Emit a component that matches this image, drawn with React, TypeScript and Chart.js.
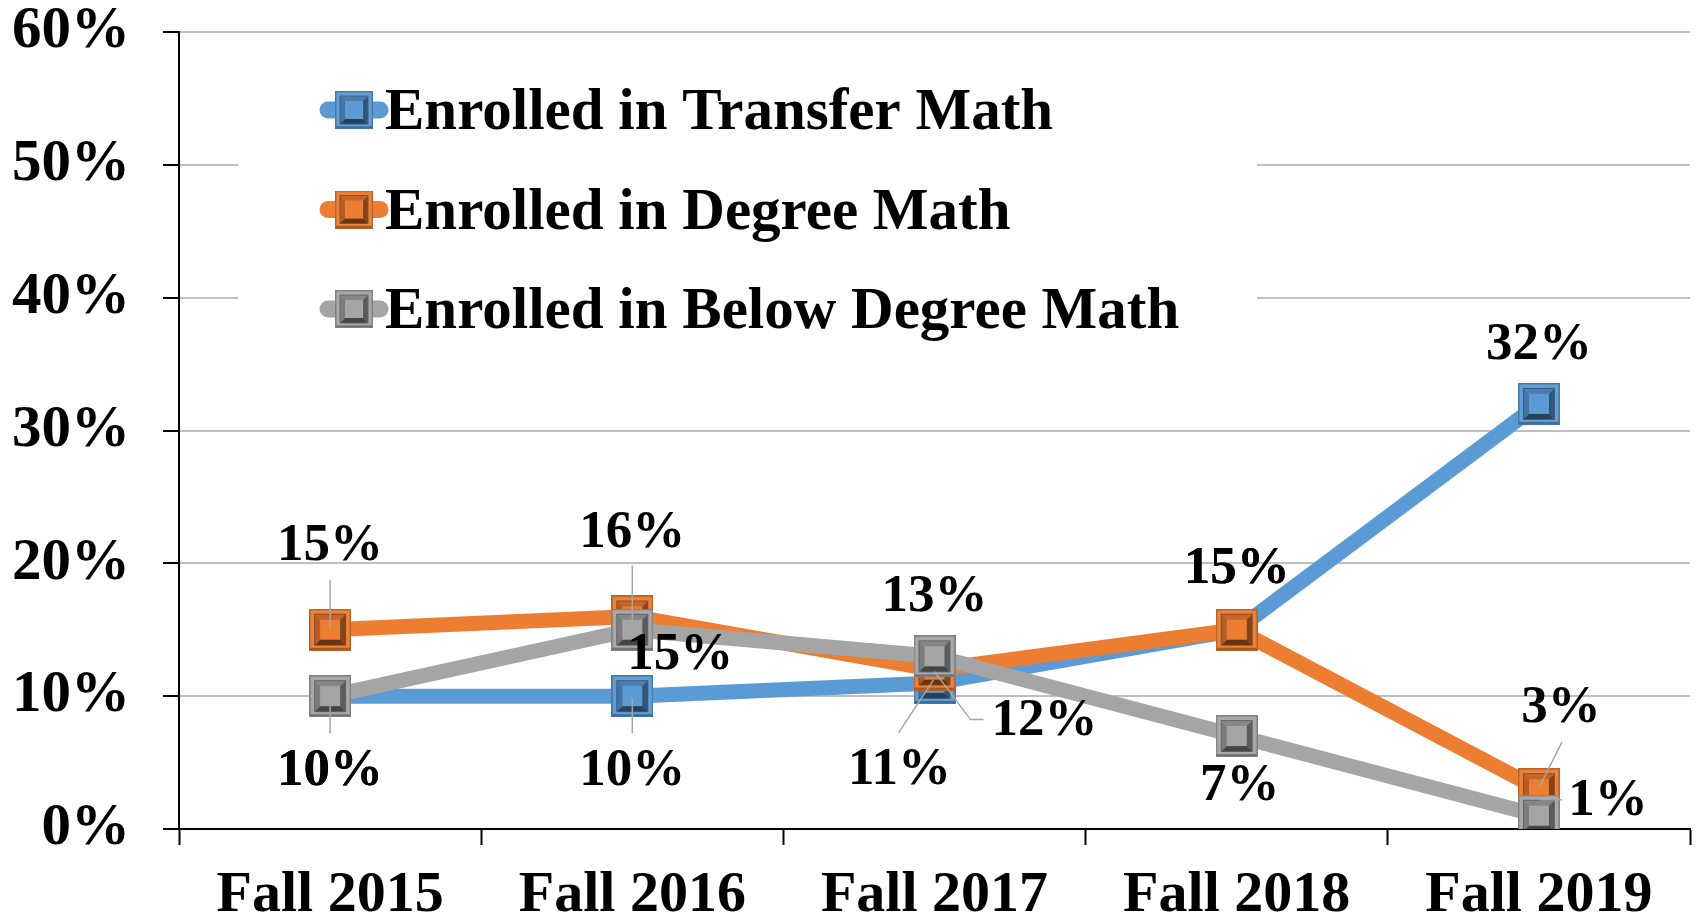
import React, { useEffect, useRef } from 'react';
import { Chart, registerables } from 'chart.js';
Chart.register(...registerables);

const categories = ['Fall 2015', 'Fall 2016', 'Fall 2017', 'Fall 2018', 'Fall 2019'];
const transferMath = [10, 10, 11, 15, 32];
const degreeMath = [15, 16, 12, 15, 3];
const belowDegreeMath = [10, 15, 13, 7, 1];
const seriesNames = ['Enrolled in Transfer Math', 'Enrolled in Degree Math', 'Enrolled in Below Degree Math'];
const yMin = 0;
const yMax = 60;
const yStep = 10;

const COLORS = ['#5B9BD5', '#ED7D31', '#A5A5A5'];
const FONT = '"Liberation Serif", "Times New Roman", serif';

type Lbl = { dx: number; dy: number; lead?: number[][] };
// label placement relative to its point (pixels)
const labelLayout: Lbl[][] = [
  [
    { dx: 0, dy: 75, lead: [[0, 2], [0, 37]] },
    { dx: 0, dy: 75, lead: [[0, 2], [0, 37]] },
    { dx: -35, dy: 87, lead: [[-1, -3], [-36, 50]] },
    { dx: 0, dy: -60 },
    { dx: 0, dy: -59 },
  ],
  [
    { dx: 0, dy: -83, lead: [[0, -50], [0, 0]] },
    { dx: 0, dy: -83, lead: [[0, -51], [0, 3]] },
    { dx: 110, dy: 52, lead: [[0, 2], [36, 50], [49, 50]] },
    { dx: 0, dy: -60 },
    { dx: 22, dy: -81, lead: [[23, -47], [0, -1]] },
  ],
  [
    { dx: 0, dy: 75 },
    { dx: 48, dy: 26 },
    { dx: 0, dy: -59 },
    { dx: 3, dy: 50 },
    { dx: 69, dy: -14, lead: [[0, -16], [23, -16]] },
  ],
];

function shade(hex: string, f: number): string {
  const n = parseInt(hex.slice(1), 16);
  let r = (n >> 16) & 255, g = (n >> 8) & 255, b = n & 255;
  if (f >= 1) {
    const t = f - 1;
    r = r + (255 - r) * t; g = g + (255 - g) * t; b = b + (255 - b) * t;
  } else {
    r *= f; g *= f; b *= f;
  }
  return `rgb(${Math.round(r)},${Math.round(g)},${Math.round(b)})`;
}

function makeMarker(base: string): HTMLCanvasElement {
  const s = 42;
  const c = document.createElement('canvas');
  c.width = s; c.height = s;
  const ctx = c.getContext('2d')!;
  const poly = (col: string, pts: number[][]) => {
    ctx.fillStyle = col;
    ctx.beginPath();
    ctx.moveTo(pts[0][0], pts[0][1]);
    for (let i = 1; i < pts.length; i++) ctx.lineTo(pts[i][0], pts[i][1]);
    ctx.closePath();
    ctx.fill();
  };
  ctx.fillStyle = shade(base, 1.04);
  ctx.fillRect(0, 0, s, s);
  const i0 = 5, b = 6;
  const a = i0, z = s - i0;
  poly(shade(base, 0.82), [[a, a], [z, a], [z - b, a + b], [a + b, a + b]]);
  poly(shade(base, 0.75), [[a, a], [a + b, a + b], [a + b, z - b], [a, z]]);
  poly(shade(base, 0.55), [[z, a], [z, z], [z - b, z - b], [z - b, a + b]]);
  poly(shade(base, 0.42), [[a, z], [a + b, z - b], [z - b, z - b], [z, z]]);
  ctx.fillStyle = base;
  ctx.fillRect(a + b, a + b, z - a - 2 * b, z - a - 2 * b);
  ctx.strokeStyle = shade(base, 0.6);
  ctx.lineWidth = 1;
  ctx.strokeRect(a + 0.5, a + 0.5, z - a - 1, z - a - 1);
  ctx.strokeStyle = shade(base, 0.78);
  ctx.lineWidth = 1.5;
  ctx.strokeRect(0.75, 0.75, s - 1.5, s - 1.5);
  ctx.fillStyle = shade(base, 0.7);
  ctx.fillRect(1, s - 3, s - 2, 2);
  return c;
}

export default function App() {
  const ref = useRef<HTMLCanvasElement | null>(null);

  useEffect(() => {
    if (!ref.current) return;
    const markers = COLORS.map(makeMarker);
    const seriesData = [transferMath, degreeMath, belowDegreeMath];

    const legendPlugin = {
      id: 'customLegend',
      beforeDatasetsDraw(chart: any) {
        const ctx = chart.ctx;
        ctx.save();
        ctx.fillStyle = '#FFFFFF';
        ctx.fillRect(238, 55, 1019, 290);
        seriesNames.forEach((name, i) => {
          const cy = 110 + i * 99.5;
          ctx.strokeStyle = COLORS[i];
          ctx.lineWidth = 17;
          ctx.lineCap = 'round';
          ctx.beginPath();
          ctx.moveTo(328, cy);
          ctx.lineTo(380, cy);
          ctx.stroke();
          ctx.drawImage(markers[i], 335, cy - 19, 38, 38);
          ctx.fillStyle = '#000';
          ctx.font = `bold 59px ${FONT}`;
          ctx.textAlign = 'left';
          ctx.textBaseline = 'alphabetic';
          ctx.fillText(name, 385, cy + 19);
        });
        ctx.restore();
      },
    };

    const labelPlugin = {
      id: 'valueLabels',
      afterDatasetsDraw(chart: any) {
        const ctx = chart.ctx;
        ctx.save();
        chart.data.datasets.forEach((ds: any, di: number) => {
          const meta = chart.getDatasetMeta(di);
          meta.data.forEach((pt: any, i: number) => {
            const L = labelLayout[di][i];
            if (L.lead) {
              ctx.strokeStyle = '#A6A6A6';
              ctx.lineWidth = 1.5;
              ctx.beginPath();
              L.lead.forEach((p, k) => {
                if (k === 0) ctx.moveTo(pt.x + p[0], pt.y + p[1]);
                else ctx.lineTo(pt.x + p[0], pt.y + p[1]);
              });
              ctx.stroke();
            }
          });
        });
        chart.data.datasets.forEach((ds: any, di: number) => {
          const meta = chart.getDatasetMeta(di);
          meta.data.forEach((pt: any, i: number) => {
            const L = labelLayout[di][i];
            ctx.fillStyle = '#000';
            ctx.font = `bold 53px ${FONT}`;
            ctx.textAlign = 'center';
            ctx.textBaseline = 'middle';
            ctx.fillText(`${ds.data[i]}%`, pt.x + L.dx, pt.y + L.dy);
          });
        });
        ctx.restore();
      },
    };

    const chart = new Chart(ref.current, {
      type: 'line',
      data: {
        labels: categories,
        datasets: seriesData.map((d, i) => ({
          label: seriesNames[i],
          data: d,
          borderColor: COLORS[i],
          backgroundColor: COLORS[i],
          borderWidth: 15,
          borderCapStyle: 'round',
          borderJoinStyle: 'round',
          pointStyle: markers[i],
          pointRadius: 21,
          tension: 0,
          order: 2 - i,
        })),
      },
      options: {
        animation: false,
        responsive: false,
        layout: { autoPadding: false, padding: { top: 32, right: 9, left: 0, bottom: 0 } },
        plugins: { legend: { display: false }, tooltip: { enabled: false } },
        scales: {
          x: {
            offset: true,
            grid: {
              display: true,
              drawOnChartArea: false,
              drawTicks: true,
              tickLength: 16,
              tickColor: '#000',
              tickWidth: 2,
              offset: true,
            },
            border: { color: '#000', width: 2 },
            ticks: {
              color: '#000',
              font: { family: FONT, size: 58, weight: 'bold' },
              padding: 16,
              maxRotation: 0,
              autoSkip: false,
            },
            afterFit: (s: any) => { s.height = 93; s.paddingLeft = 0; s.paddingRight = 0; },
          },
          y: {
            min: yMin,
            max: yMax,
            grid: {
              color: '#BFBFBF',
              lineWidth: 2,
              tickLength: 16,
              tickColor: '#000',
              tickWidth: 2,
            },
            border: { color: '#000', width: 2 },
            ticks: {
              stepSize: yStep,
              color: '#000',
              font: { family: FONT, size: 59, weight: 'bold' },
              padding: 33,
              callback: (v: any) => `${v}%`,
            },
            afterFit: (s: any) => { s.width = 179; s.paddingTop = 0; s.paddingBottom = 0; },
          },
        },
      },
      plugins: [legendPlugin, labelPlugin],
    } as any);
    return () => chart.destroy();
  }, []);

  return (
    <div style={{ position: 'absolute', left: 0, top: 0, width: 1699, height: 922, background: '#fff' }}>
      <canvas ref={ref} width={1699} height={922} style={{ display: 'block' }} />
    </div>
  );
}
